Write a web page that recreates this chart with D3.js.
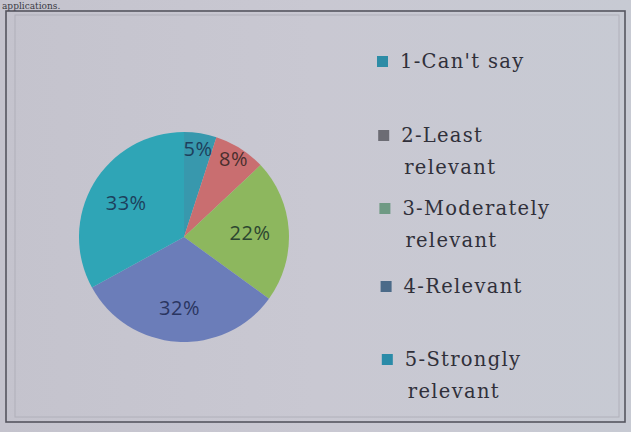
<!DOCTYPE html>
<html>
<head>
<meta charset="utf-8">
<script src="https://cdn.jsdelivr.net/npm/d3@7"></script>
<style>
  html, body { margin: 0; padding: 0; background: #c8c8d1; }
  svg { display: block; }
</style>
</head>
<body>
<svg id="chart" width="631" height="432"></svg>
<script>
// Survey response shares (percent), in legend order
const categories = ["1-Can't say", "2-Least relevant", "3-Moderately relevant", "4-Relevant", "5-Strongly relevant"];
const legendLines = [["1-Can't say"], ["2-Least", "relevant"], ["3-Moderately", "relevant"], ["4-Relevant"], ["5-Strongly", "relevant"]];
const values = [5, 8, 22, 32, 33];
const sliceColors = ["#3898ad", "#c96e70", "#8db75e", "#6b7db9", "#2fa5b6"];
const swatchColors = ["#2d8ca6", "#6c6c74", "#6f9a84", "#4b6a88", "#2a8ba8"];
const labelColors = ["#1d3f5c", "#4a2e2e", "#2c4630", "#2a3560", "#1d3f5c"];

const svg = d3.select("#chart");
const W = 631, H = 432;

// page background with a soft uneven tone
const defs = svg.append("defs");
const grad = defs.append("linearGradient").attr("id", "bg").attr("x1", 0).attr("x2", 1).attr("y1", 0).attr("y2", 0);
grad.append("stop").attr("offset", 0).attr("stop-color", "#c4c3cd");
grad.append("stop").attr("offset", 0.5).attr("stop-color", "#c9c8d2");
grad.append("stop").attr("offset", 1).attr("stop-color", "#c7cad3");
svg.append("rect").attr("width", W).attr("height", H).attr("fill", "url(#bg)");

// running text above the figure
svg.append("text").attr("x", 2).attr("y", 8.5)
  .attr("font-family", "DejaVu Serif, serif").attr("font-size", 9)
  .attr("fill", "#3a3a44").text("applications.");

// figure frame
svg.append("rect").attr("x", 6).attr("y", 11).attr("width", 619).attr("height", 411)
  .attr("fill", "none").attr("stroke", "#55555f").attr("stroke-width", 1.6);
svg.append("rect").attr("x", 15).attr("y", 15).attr("width", 604).attr("height", 402)
  .attr("fill", "none").attr("stroke", "#b0b0ba").attr("stroke-width", 1);

// pie
const cx = 184, cy = 237, r = 105;
const pie = d3.pie().sort(null).value(d => d);
const arcs = pie(values);
const arc = d3.arc().innerRadius(0).outerRadius(r);
const g = svg.append("g").attr("transform", `translate(${cx},${cy})`);
g.selectAll("path").data(arcs).join("path")
  .attr("d", arc)
  .attr("fill", (d, i) => sliceColors[i])
  .attr("stroke", "none");

// percentage labels, placed along each slice's mid-angle
const labelR = [0.85, 0.88, 0.63, 0.68, 0.64];
g.selectAll("text.pct").data(arcs).join("text")
  .attr("class", "pct")
  .attr("transform", (d, i) => {
    const a = (d.startAngle + d.endAngle) / 2;
    const rr = r * labelR[i];
    return `translate(${Math.sin(a) * rr},${-Math.cos(a) * rr})`;
  })
  .attr("text-anchor", "middle").attr("dy", "0.35em")
  .attr("font-family", "Open Sans, DejaVu Sans, sans-serif").attr("font-size", 20)
  .attr("letter-spacing", 0.5)
  .attr("fill", (d, i) => labelColors[i])
  .text(d => d.data + "%");

// legend
const legendX = 377;
const legendTop = [62, 136, 209, 287, 360];
const leg = svg.append("g");
categories.forEach((c, i) => {
  const y = legendTop[i];
  const dx = i * 1.2;
  leg.append("rect").attr("x", legendX + dx).attr("y", y - 6).attr("width", 11).attr("height", 11)
    .attr("fill", swatchColors[i]);
  legendLines[i].forEach((line, j) => {
    leg.append("text").attr("x", legendX + 23 + dx + j * 3).attr("y", y + 6 + j * 32)
      .attr("font-family", "DejaVu Serif, serif").attr("font-size", 19.5)
      .attr("letter-spacing", 1.3)
      .attr("fill", "#30303a").text(line);
  });
});
</script>
</body>
</html>
